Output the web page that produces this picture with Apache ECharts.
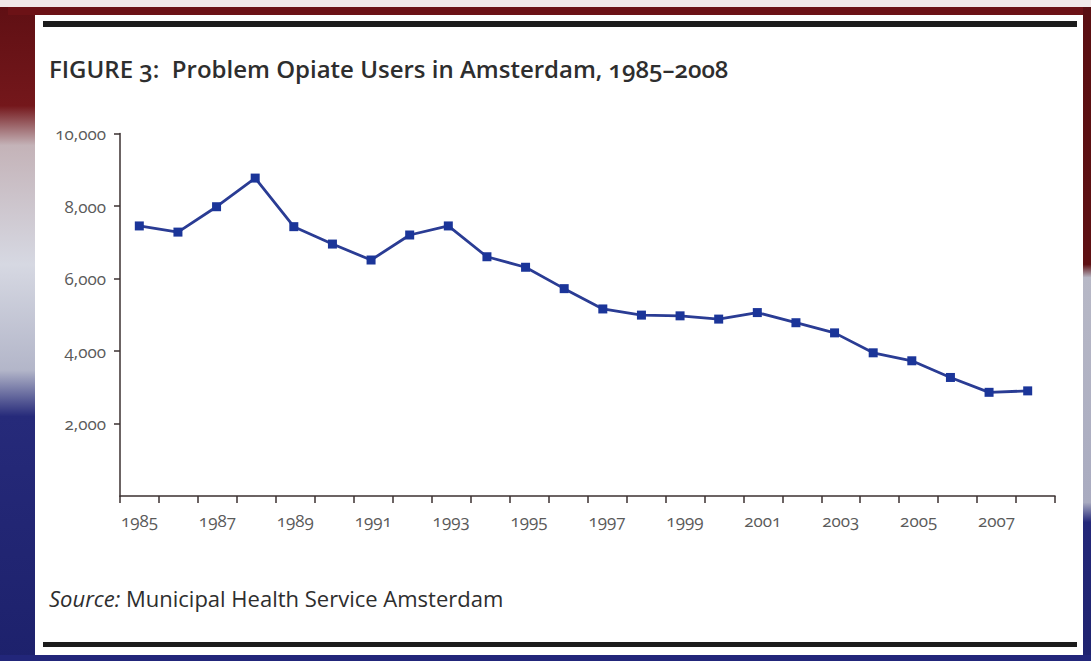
<!DOCTYPE html>
<html><head><meta charset="utf-8">
<script src="https://cdn.jsdelivr.net/npm/echarts@6/dist/echarts.min.js"></script>
<style>
html,body{margin:0;padding:0;background:#fff;}
#chart{width:1091px;height:661px;}
#chart text{font-feature-settings:"onum" 1 !important;font-variant-numeric:oldstyle-nums !important;}
</style></head><body><div id="chart"></div>
<script>
const years = ['1985','1986','1987','1988','1989','1990','1991','1992','1993','1994','1995','1996',
               '1997','1998','1999','2000','2001','2002','2003','2004','2005','2006','2007','2008'];
const users = [7450,7280,7980,8770,7430,6950,6510,7200,7450,6600,6310,5720,
               5160,4990,4970,4880,5060,4780,4500,3950,3730,3270,2860,2900];
const yTickValues = [2000,4000,6000,8000,10000];
const yTickLabels = ['2,000','4,000','6,000','8,000','10,000'];
const titleText = 'FIGURE 3:  Problem Opiate Users in Amsterdam, 1985–2008';
const sourceLabel = 'Source:';
const sourceText = ' Municipal Health Service Amsterdam';

const chart = echarts.init(document.getElementById('chart'), null, {renderer:'svg'});
const FONT = '"Open Sans", "Noto Sans", sans-serif';
const axisColor = '#3b3030';
const labelColor = '#5a5a5a';

chart.setOption({
  animation:false,
  title:[
    {text:titleText, left:44, top:51,
     textStyle:{fontFamily:FONT, fontSize:24, fontWeight:600, color:'#2e2e2e'}},
    {text:'{i|'+sourceLabel+'}{n|'+sourceText+'}', left:44, top:582,
     textStyle:{fontWeight:'normal', rich:{
       i:{fontFamily:FONT, fontSize:22, fontStyle:'italic', fontWeight:'normal', color:'#2e2e2e'},
       n:{fontFamily:FONT, fontSize:22, fontWeight:'normal', color:'#2e2e2e'}}}}
  ],
  graphic:[
    {type:'rect', z:-20, shape:{x:0,y:0,width:1091,height:661},
     style:{fill:{type:'linear',x:0,y:0,x2:0,y2:1,colorStops:[
       {offset:0,color:'#5e0f13'},{offset:0.16,color:'#74171b'},{offset:0.22,color:'#c4b3b8'},
       {offset:0.4,color:'#d6d8e2'},{offset:0.56,color:'#b3b6c9'},{offset:0.63,color:'#262a7a'},
       {offset:1,color:'#1d216c'}]}}},
    {type:'rect', z:-19, shape:{x:1083,y:0,width:8,height:661},
     style:{fill:{type:'linear',x:0,y:0,x2:0,y2:1,colorStops:[
       {offset:0,color:'#5a0f12'},{offset:0.4,color:'#5e1013'},{offset:0.42,color:'#b7b8c6'},
       {offset:0.76,color:'#a9abc0'},{offset:0.79,color:'#24287a'},{offset:1,color:'#1f236f'}]}}},
    {type:'rect', z:-18, shape:{x:0,y:0,width:1091,height:7}, style:{fill:'#f1e9e9'}},
    {type:'rect', z:-18, shape:{x:8,y:7,width:1075,height:8}, style:{fill:'#6c1216'}},
    {type:'rect', z:-18, shape:{x:0,y:655,width:1091,height:6}, style:{fill:'#22267a'}},
    {type:'rect', z:-15, shape:{x:35,y:15,width:1048,height:640}, style:{fill:'#ffffff'}},
    {type:'rect', z:-14, shape:{x:43,y:21,width:1034,height:6}, style:{fill:'#1c1c1c'}},
    {type:'rect', z:-14, shape:{x:43,y:642,width:1034,height:5}, style:{fill:'#1c1c1c'}}
  ],
  grid:[
    {left:120, top:133.5, width:935, bottom:165, containLabel:false},
    {left:120, top:133.5, width:927, bottom:165, containLabel:false}
  ],
  xAxis:[{
    gridIndex:0, type:'category', data:years, boundaryGap:true,
    axisLine:{lineStyle:{color:axisColor, width:1.5}},
    axisTick:{show:true, interval:0, length:7, inside:false, lineStyle:{color:axisColor, width:1.5}},
    axisLabel:{interval:1, margin:16, fontFamily:FONT, fontSize:17, color:labelColor},
    splitLine:{show:false}
  },{
    gridIndex:1, type:'category', data:years, boundaryGap:true, show:false
  }],
  yAxis:[{
    gridIndex:0, type:'value', min:0, max:10000, interval:2000,
    axisLine:{show:true, lineStyle:{color:axisColor, width:1.5}},
    axisTick:{show:true, length:6, lineStyle:{color:axisColor, width:1.5},
      customValues: yTickValues},
    axisLabel:{margin:14, fontFamily:FONT, fontSize:17, color:labelColor,
      customValues: yTickValues,
      formatter:function(v){const i=yTickValues.indexOf(v);return i<0?'':yTickLabels[i];}},
    splitLine:{show:false}
  },{
    gridIndex:1, type:'value', min:0, max:10000, interval:2000, show:false
  }],
  series:[{
    type:'line', xAxisIndex:1, yAxisIndex:1, data:users, symbol:'rect', symbolSize:9,
    lineStyle:{color:'#2a3c94', width:2.8},
    itemStyle:{color:'#1b3599'}
  }]
});
</script></body></html>
